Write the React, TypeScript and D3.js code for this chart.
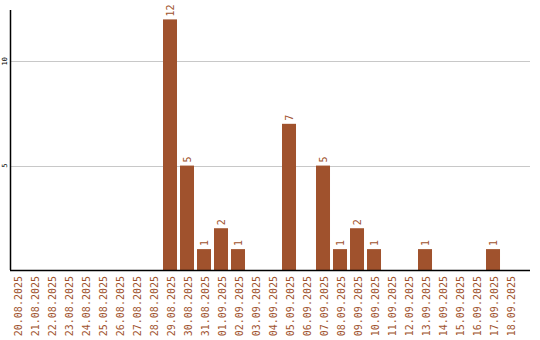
import React, { useEffect } from "react";
import * as d3 from "d3";

const dates = [
  "20.08.2025", "21.08.2025", "22.08.2025", "23.08.2025", "24.08.2025",
  "25.08.2025", "26.08.2025", "27.08.2025", "28.08.2025", "29.08.2025",
  "30.08.2025", "31.08.2025", "01.09.2025", "02.09.2025", "03.09.2025",
  "04.09.2025", "05.09.2025", "06.09.2025", "07.09.2025", "08.09.2025",
  "09.09.2025", "10.09.2025", "11.09.2025", "12.09.2025", "13.09.2025",
  "14.09.2025", "15.09.2025", "16.09.2025", "17.09.2025", "18.09.2025",
];
const counts = [
  0, 0, 0, 0, 0, 0, 0, 0, 0, 12,
  5, 1, 2, 1, 0, 0, 7, 0, 5, 1,
  2, 1, 0, 0, 1, 0, 0, 0, 1, 0,
];
const yTicks = [5, 10];

const W = 540;
const H = 340;
const left = 10;
const right = 530;
const top = 10;
const bottom = 270;
const color = "#a0522d";
const font = "'DejaVu Sans Mono', monospace";

export default function App() {
  useEffect(() => {
    document.body.style.margin = "0";
  }, []);

  const x = d3
    .scaleBand<string>()
    .domain(dates)
    .range([left, right])
    .paddingInner(3 / 17)
    .paddingOuter(0.382)
    .align(0);
  const y = d3.scaleLinear().domain([0, 12.45]).range([bottom, top]);
  const bw = x.bandwidth();

  return (
    <svg width={W} height={H} style={{ display: "block" }}>
      <rect x={0} y={0} width={W} height={H} fill="#fff" />
      {yTicks.map((t) => (
        <g key={t}>
          <line x1={left} x2={right} y1={Math.round(y(t)) + 0.5} y2={Math.round(y(t)) + 0.5} stroke="#c8c8c8" strokeWidth={1} />
          <text
            transform={`translate(7,${y(t)}) rotate(-90)`}
            textAnchor="middle"
            fontFamily={font}
            fontSize={7}
            fill="#000"
          >
            {t}
          </text>
        </g>
      ))}
      {dates.map((d, i) => {
        const v = counts[i];
        const cx = (x(d) as number) + bw / 2;
        return (
          <g key={d}>
            {v > 0 && (
              <>
                <rect x={x(d)} y={y(v)} width={bw} height={y(0) - y(v)} fill={color} />
                <text
                  transform={`translate(${cx + 3.5},${y(v) - 3}) rotate(-90)`}
                  textAnchor="start"
                  fontFamily={font}
                  fontSize={10}
                  fill={color}
                >
                  {v}
                </text>
              </>
            )}
            <text
              transform={`translate(${cx + 4.5},${bottom + 6}) rotate(-90)`}
              textAnchor="end"
              fontFamily={font}
              fontSize={10}
              fill={color}
            >
              {d}
            </text>
          </g>
        );
      })}
      <line x1={left + 0.5} x2={left + 0.5} y1={top} y2={bottom} stroke="#000" strokeWidth={1.5} />
      <line x1={left} x2={right} y1={bottom + 0.5} y2={bottom + 0.5} stroke="#000" strokeWidth={1.5} />
    </svg>
  );
}
